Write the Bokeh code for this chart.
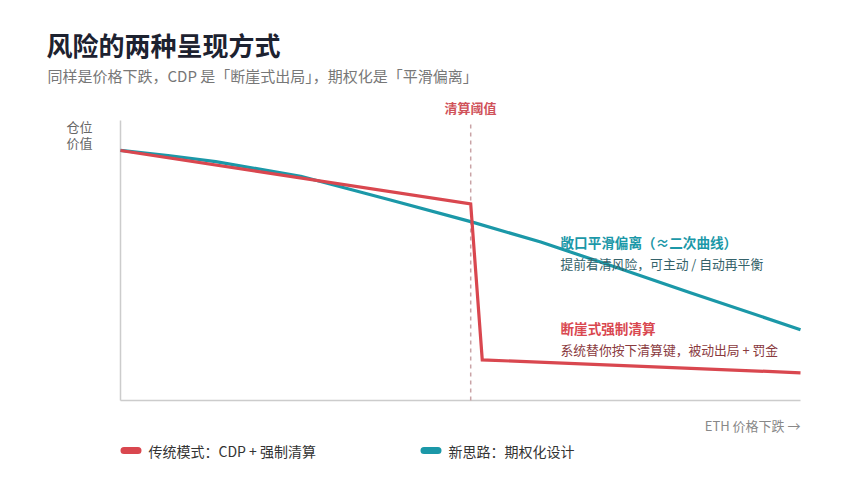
from bokeh.plotting import figure
from bokeh.models import Label, Range1d, BoxAnnotation
from bokeh.embed import file_html
from bokeh.resources import INLINE

# ---------------- data ----------------
cdp_x = [0, 51.5, 53.2, 100]
cdp_y = [89.3, 70.2, 14.5, 9.9]

opt_x = [0, 7.0, 14.0, 26.5, 39.7, 51.5, 61.8, 72.1, 83.8, 100]
opt_y = [89.3, 87.5, 85.3, 80.1, 71.6, 63.9, 56.6, 48.2, 38.5, 25.3]

threshold_x = 51.5
axis_x = [0, 100]
axis_y = [0, 100]

legend_labels = ["传统模式：CDP + 强制清算", "新思路：期权化设计"]

RED = "#d9474f"
TEAL = "#1b98a8"
FONT = "Noto Sans CJK SC"

W, H = 860, 480
p = figure(width=W, height=H, output_backend="svg", toolbar_location=None,
           min_border=0, min_border_left=0, min_border_right=0,
           min_border_top=0, min_border_bottom=0, outline_line_color=None)
p.x_range = Range1d(-120 / 6.8, (W - 120) / 6.8)
p.y_range = Range1d(-80 / 2.8, 400 / 2.8)
p.xaxis.visible = False
p.yaxis.visible = False
p.grid.visible = False
p.background_fill_color = "white"
p.border_fill_color = "white"

# axes lines
p.segment(x0=[axis_x[0]], y0=[axis_y[0]], x1=[axis_x[0]], y1=[axis_y[1]],
          line_color="#cccccc", line_width=1.5)
p.segment(x0=[axis_x[0]], y0=[axis_y[0]], x1=[axis_x[1]], y1=[axis_y[0]],
          line_color="#cccccc", line_width=1.5)

# threshold
p.segment(x0=[threshold_x], y0=[axis_y[0]], x1=[threshold_x], y1=[axis_y[1]],
          line_color="#c9a3a6", line_width=1.5, line_dash="4 4")

# lines
p.line(opt_x, opt_y, line_color=TEAL, line_width=3.2, line_join="round")
p.line(cdp_x, cdp_y, line_color=RED, line_width=3.2, line_join="miter")


def lab(text, x, y, size, color, bold=False, align="left"):
    p.add_layout(Label(x=x, y=H - y, x_units="screen", y_units="screen",
                       text=text, text_font=FONT, text_font_size=size,
                       text_color=color, text_font_style="bold" if bold else "normal",
                       text_align=align, text_baseline="middle"))


# legend (swatches as rounded boxes in screen units)
for i, (lbl, col) in enumerate(zip(legend_labels, [RED, TEAL])):
    x0 = 120 + i * 300
    p.add_layout(BoxAnnotation(left=x0, right=x0 + 21, top=H - 446.5, bottom=H - 453.5,
                               left_units="screen", right_units="screen",
                               top_units="screen", bottom_units="screen",
                               fill_color=col, fill_alpha=1, line_alpha=0,
                               border_radius=4))
    lab(lbl, x0 + 28, 450, "14px", "#333333")

lab("风险的两种呈现方式", 46, 44, "26px", "#1d2230", bold=True)
lab("同样是价格下跌，CDP 是「断崖式出局」，期权化是「平滑偏离」", 47, 75, "15px", "#777777")
lab("清算阈值", 470, 107, "13px", "#d0525a", bold=True, align="center")
lab("仓位", 66, 126, "13px", "#666666")
lab("价值", 66, 142, "13px", "#666666")
lab("敞口平滑偏离（≈二次曲线）", 560, 241, "13.6px", TEAL, bold=True)
lab("提前看清风险，可主动 / 自动再平衡", 560, 263, "12.8px", "#35626a")
lab("断崖式强制清算", 560, 327, "13.6px", RED, bold=True)
lab("系统替你按下清算键，被动出局 + 罚金", 560, 349, "12.8px", "#8a3a3e")
lab("ETH 价格下跌 →", 800, 425, "13px", "#888888", align="right")

open("out.html", "w").write(file_html(p, INLINE))
